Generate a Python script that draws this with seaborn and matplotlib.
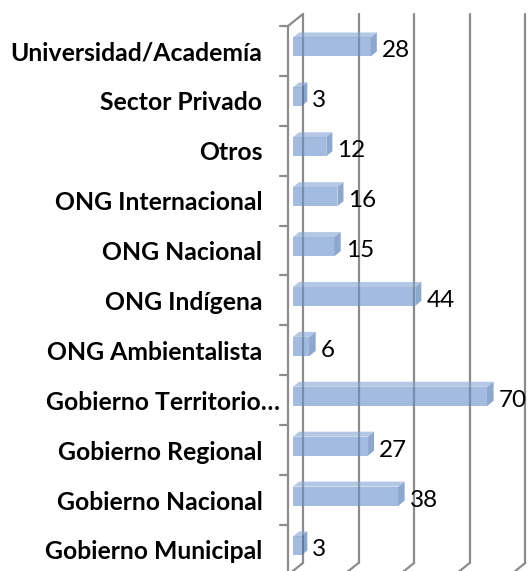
import numpy as np
import pandas as pd
import matplotlib
matplotlib.use("Agg")
import matplotlib.pyplot as plt
import matplotlib.transforms as mtransforms
from matplotlib.patches import Polygon
import seaborn as sns

categories = [
    "Universidad/Academía",
    "Sector Privado",
    "Otros",
    "ONG Internacional",
    "ONG Nacional",
    "ONG Indígena",
    "ONG Ambientalista",
    "Gobierno Territorio…",
    "Gobierno Regional",
    "Gobierno Nacional",
    "Gobierno Municipal",
]
values = [28, 3, 12, 16, 15, 44, 6, 70, 27, 38, 3]
x_ticks = [0, 20, 40, 60, 80]

sns.set_theme(style="white")
plt.rcParams["font.family"] = ["Lato", "DejaVu Sans"]

DPI = 100
W, H = 530, 571
fig = plt.figure(figsize=(W / DPI, H / DPI), dpi=DPI)

left_px, top_px = 288, 26
unit_px = 2.78
cat_px = 49.9
ax_w = (x_ticks[-1] - x_ticks[0]) * unit_px
ax_h = len(categories) * cat_px
ax = fig.add_axes([left_px / W, 1 - (top_px + ax_h) / H, ax_w / W, ax_h / H])

df = pd.DataFrame({"cat": categories, "val": values})
front_rgb = (100 / 255, 143 / 255, 202 / 255)
sns.barplot(data=df, x="val", y="cat", orient="h", width=0.38,
            color=front_rgb, saturation=1, ax=ax, zorder=3)
ax.set_xlim(x_ticks[0], x_ticks[-1])
ax.set_ylim(len(categories) - 0.5, -0.5)
ax.set_xticks(x_ticks)
ax.set_xticklabels([])
ax.tick_params(axis="x", length=0)
ax.set_xlabel("")
ax.set_ylabel("")
for s in ax.spines.values():
    s.set_visible(False)
ax.patch.set_alpha(0)

px = lambda p: p / DPI
bar_off = mtransforms.ScaledTranslation(px(5), px(4), fig.dpi_scale_trans)
wall_off = mtransforms.ScaledTranslation(px(15), px(12), fig.dpi_scale_trans)
grid_c = "#8c8c8c"
alpha = 0.6

# back wall gridlines
blend = mtransforms.blended_transform_factory(ax.transData, ax.transAxes)
for xt in x_ticks:
    ax.plot([xt, xt], [0, 1], transform=blend + wall_off, color=grid_c,
            lw=1.6, clip_on=False, zorder=1)
    # floor diagonal
    p0 = blend.transform((xt, 0))
    p1 = (blend + wall_off).transform((xt, 0))
    ax.add_line(plt.Line2D([p0[0], p1[0]], [p0[1], p1[1]], transform=mtransforms.IdentityTransform(),
                           color=grid_c, lw=1.6, clip_on=False, zorder=1))

# left wall: front axis line and top diagonal
ax.plot([0, 0], [0, 1], transform=blend, color=grid_c, lw=1.6, clip_on=False, zorder=1)
q0 = blend.transform((0, 1))
q1 = (blend + wall_off).transform((0, 1))
ax.add_line(plt.Line2D([q0[0], q1[0]], [q0[1], q1[1]], transform=mtransforms.IdentityTransform(),
                       color=grid_c, lw=1.6, clip_on=False, zorder=1))

# category boundary ticks
blend_y = mtransforms.blended_transform_factory(ax.transAxes, ax.transData)
for b in np.arange(-0.5, len(categories), 1.0):
    ax.plot([-8 / ax_w, 0], [b, b], transform=blend_y, color=grid_c, lw=1.6,
            clip_on=False, zorder=1)

# bars: front faces + 3D top/side faces
depth = np.array([6, 5])
top_rgb = (130 / 255, 163 / 255, 210 / 255)
side_rgb = (65 / 255, 110 / 255, 170 / 255)
bars = [p for p in ax.patches]
for p in bars:
    p.set_transform(ax.transData + bar_off)
    p.set_facecolor((*front_rgb, alpha))
    p.set_edgecolor("none")
    p.set_clip_on(False)
    x0, y0, w, h = p.get_x(), p.get_y(), p.get_width(), p.get_height()
    tr = ax.transData + bar_off
    TL = tr.transform((x0, y0))
    TR = tr.transform((x0 + w, y0))
    BR = tr.transform((x0 + w, y0 + h))
    top = Polygon([TL, TR, TR + depth, TL + depth], closed=True,
                  transform=mtransforms.IdentityTransform(),
                  facecolor=(*top_rgb, alpha), edgecolor="none", zorder=3, clip_on=False)
    side = Polygon([TR, BR, BR + depth, TR + depth], closed=True,
                   transform=mtransforms.IdentityTransform(),
                   facecolor=(*side_rgb, alpha), edgecolor="none", zorder=3, clip_on=False)
    ax.add_patch(top)
    ax.add_patch(side)

# value labels
lab_off = mtransforms.ScaledTranslation(px(16), 0, fig.dpi_scale_trans)
for i, v in enumerate(values):
    ax.text(v, i, str(v), transform=ax.transData + lab_off, ha="left", va="center",
            fontsize=17.5, color="black", zorder=5)

# category labels
ax.tick_params(axis="y", length=0, pad=18.5)
for lbl in ax.get_yticklabels():
    lbl.set_fontsize(17.8)
    lbl.set_fontweight("bold")
    lbl.set_color("black")
    if lbl.get_text().endswith("…"):
        lbl.set_transform(lbl.get_transform() +
                          mtransforms.ScaledTranslation(px(18), 0, fig.dpi_scale_trans))

fig.savefig("out.png", dpi=DPI)
